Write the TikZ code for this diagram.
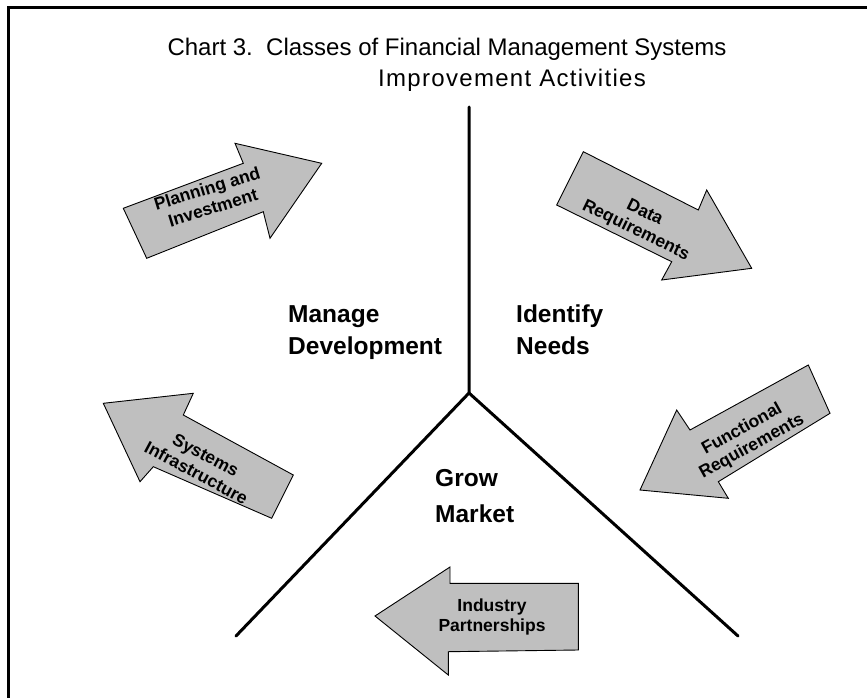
\documentclass[tikz,border=0pt]{standalone}
\usepackage{fontspec}
\setmainfont{Liberation Sans}
\begin{document}
\begin{tikzpicture}[x=1pt,y=-1pt,
  arrowbox/.style={fill=black!25,draw=black,line width=0.9pt,line join=miter},
  arrowtext/.style={font=\fontsize{17.5}{20}\selectfont\bfseries,align=center,inner sep=0pt},
  region/.style={font=\fontsize{24.5}{32}\selectfont\bfseries,align=left,anchor=north west,inner sep=0pt},
  titletext/.style={inner sep=0pt,anchor=base,font=\fontsize{24}{28}\selectfont},
  ytrunk/.style={line width=3pt,line cap=round}]
\useasboundingbox (0,0) rectangle (867,698);
\fill[white] (0,0) rectangle (867,698);
% frame
\draw[line width=3pt] (8,698) -- (8,7.5) -- (867,7.5);
% title
\node[titletext] (t1) at (447,56) {Chart 3.\ \ Classes of Financial Management Systems};
\node[titletext] (t2) at (512,87) {\addfontfeature{LetterSpace=5.5}Improvement Activities};
% Y lines
\coordinate (ytop) at (469,107);
\coordinate (yc) at (469,393);
\coordinate (ybl) at (236,636);
\coordinate (ybr) at (738,636);
\draw[ytrunk] (ytop) -- (yc) -- (ybl);
\draw[ytrunk] (yc) -- (ybr);
% region labels
\node[region] (md) at (288,305) {Manage\\Development};
\node[region] (idn) at (516,305) {Identify\\Needs};
\node[region,font=\fontsize{24.5}{36}\selectfont\bfseries] (gm) at (435,469) {Grow\\Market};
% arrows
\draw[arrowbox] (146.7,258.3) -- (123.3,208.3) -- (243.3,163.3) -- (235,143.3) -- (321.7,163.3) -- (270,238.3) -- (263.3,211.7) -- cycle;
\node[arrowtext,rotate=17] (pi) at (210,198) {Planning and\\Investment};
\draw[arrowbox] (583.3,151.7) -- (556.7,205) -- (671.7,261.7) -- (661.7,280) -- (751.7,268.3) -- (706.7,190) -- (698.3,210) -- cycle;
\node[arrowtext,rotate=-26] (dr) at (640,222) {Data\\Requirements};
\draw[arrowbox] (103.3,403.3) -- (193.3,393.3) -- (183.3,415) -- (293.3,475) -- (271.7,518.3) -- (153.3,466.7) -- (140,481.7) -- cycle;
\node[arrowtext,rotate=-28] (si) at (201,464) {Systems\\Infrastructure};
\draw[arrowbox] (808.3,365) -- (830,413.3) -- (718.3,481.7) -- (728.3,498.3) -- (640,490) -- (676.7,410) -- (690,430) -- cycle;
\node[arrowtext,rotate=29] (fr) at (747,438) {Functional\\Requirements};
\draw[arrowbox] (375,616) -- (450,567) -- (450,583.3) -- (578.3,583.3) -- (578.3,650) -- (448.3,651.7) -- (448.3,675) -- cycle;
\node[arrowtext] (ip) at (492,617) {Industry\\Partnerships};
\end{tikzpicture}
\end{document}
